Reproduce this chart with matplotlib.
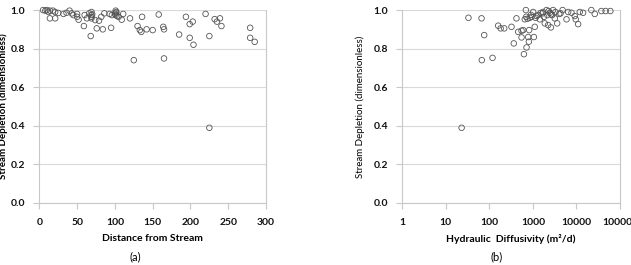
import matplotlib
matplotlib.use("Agg")
import matplotlib.pyplot as plt
from matplotlib import rcParams
from matplotlib.ticker import FixedLocator, FuncFormatter

rcParams["font.family"] = ["Lato", "DejaVu Sans"]

# (a) distance from stream vs stream depletion
dist = [5, 10, 14, 18, 21, 14, 21, 32, 36, 40, 43, 45, 50, 50, 52, 59, 60, 63, 66,
        69, 69, 69, 69, 68, 74, 76, 79, 82, 84, 86, 93, 95, 96, 101, 101, 101, 102,
        103, 105, 109, 111, 120, 125, 130, 133, 135, 136, 142, 150, 158, 164, 165,
        165, 185, 194, 199, 199, 203, 204, 220, 225, 225, 232, 235, 239, 241, 279,
        279, 285, 8, 12, 25, 100, 70]
depl_a = [1.0, 1.0, 0.997, 0.997, 0.99, 0.957, 0.957, 0.98, 0.986, 0.997, 0.983,
          0.974, 0.98, 0.965, 0.95, 0.917, 0.974, 0.957, 0.983, 0.974, 0.965, 0.957,
          0.99, 0.865, 0.948, 0.905, 0.945, 0.965, 0.9, 0.983, 0.98, 0.908, 0.974,
          0.997, 0.986, 0.974, 0.99, 0.969, 0.965, 0.95, 0.98, 0.957, 0.74, 0.917,
          0.896, 0.887, 0.965, 0.9, 0.896, 0.977, 0.913, 0.9, 0.749, 0.873, 0.965,
          0.927, 0.856, 0.94, 0.82, 0.98, 0.865, 0.389, 0.953, 0.94, 0.957, 0.917,
          0.908, 0.856, 0.835, 0.997, 0.99, 0.985, 0.98, 0.978]

# (b) hydraulic diffusivity vs stream depletion
diff = [33, 66, 76, 67, 118, 23, 159, 181, 219, 322, 363, 418, 458, 547, 547, 597,
        620, 649, 688, 713, 778, 806, 820, 700, 930, 1010, 1050, 1100, 1320, 1440,
        1660, 1870, 2050, 2150, 2230, 2450, 2580, 2760, 2900, 3170, 3600, 4000, 4300,
        4800, 5900, 6450, 7700, 9100, 9600, 10900, 11900, 14200, 21900, 26300, 37300,
        46700, 60000, 750, 850, 1200, 1500, 1800, 2300, 2600, 3300, 900, 1150, 1700]
depl_b = [0.96, 0.957, 0.87, 0.74, 0.752, 0.389, 0.919, 0.905, 0.905, 0.913, 0.827,
          0.957, 0.887, 0.893, 0.858, 0.896, 0.771, 0.952, 1.0, 0.806, 0.86, 0.836,
          0.896, 0.965, 0.965, 0.99, 0.86, 0.913, 0.974, 0.952, 0.983, 0.931, 1.0,
          0.974, 0.922, 0.986, 0.91, 0.974, 1.0, 0.957, 0.931, 0.98, 0.983, 1.0,
          0.952, 0.99, 0.986, 0.969, 0.952, 0.927, 0.99, 0.986, 1.0, 0.98, 0.995,
          0.995, 0.995, 0.955, 0.96, 0.97, 0.985, 0.965, 0.995, 0.978, 0.99, 0.975,
          0.96, 0.99]

YTICKS = [0.0, 0.2, 0.4, 0.6, 0.8, 1.0]
GRID = "#d9d9d9"
AXIS = "#c8c8c8"


def style(ax):
    ax.set_ylim(0, 1.0)
    ax.set_yticks(YTICKS)
    ax.yaxis.set_major_formatter(FuncFormatter(lambda v, p: f"{v:.1f}"))
    ax.grid(axis="y", color=GRID, lw=0.8)
    ax.set_axisbelow(True)
    for s in ("left", "bottom", "right"):
        ax.spines[s].set_color(AXIS)
        ax.spines[s].set_linewidth(0.8)
    ax.spines["top"].set_visible(False)
    ax.tick_params(axis="both", direction="out", length=4, width=0.8, color=AXIS,
                   labelsize=7.5, labelcolor="#111")
    ax.tick_params(axis="y", pad=6)
    ax.tick_params(axis="x", pad=7)
    for lab in ax.get_xticklabels() + ax.get_yticklabels():
        lab.set_fontweight("bold")


def scatter(ax, x, y):
    ax.scatter(x, y, s=16, facecolors="none", edgecolors="#555555", linewidths=0.6,
               zorder=3, clip_on=False)


fig = plt.figure(figsize=(6.31, 2.65), dpi=100)
ax1 = fig.add_axes([0.0623, 0.235, 0.3593, 0.727])
ax2 = fig.add_axes([0.6376, 0.235, 0.345, 0.727])

# panel (a)
scatter(ax1, dist, depl_a)
ax1.set_xlim(0, 300)
ax1.set_xticks(range(0, 301, 50))
style(ax1)
ax1.set_xlabel("Distance from Stream", fontsize=7.5, fontweight="bold", labelpad=5)
ax1.set_ylabel("Stream Depletion (dimensionless)", fontsize=7, fontweight="bold")
ax1.yaxis.set_label_coords(-0.137, 0.5)
fig.text(135 / 631, 1 - 257 / 265, "(a)", fontsize=8, ha="center", va="center")

# panel (b)
scatter(ax2, diff, depl_b)
ax2.set_xscale("log")
ax2.set_xlim(1, 100000)
ax2.xaxis.set_major_locator(FixedLocator([1, 10, 100, 1000, 10000, 100000]))
ax2.xaxis.set_minor_locator(FixedLocator([]))
ax2.xaxis.set_major_formatter(FuncFormatter(lambda v, p: f"{v:.0f}"))
style(ax2)
ax2.set_xlabel("Hydraulic  Diffusivity (m\u00b2/d)", fontsize=7.5, fontweight="bold", labelpad=5)
ax2.set_ylabel("Stream Depletion (dimensionless)", fontsize=7)
ax2.yaxis.set_label_coords(-0.17, 0.5)
fig.text(497 / 631, 1 - 257 / 265, "(b)", fontsize=8, ha="center", va="center")

fig.savefig("out.png", dpi=100)
